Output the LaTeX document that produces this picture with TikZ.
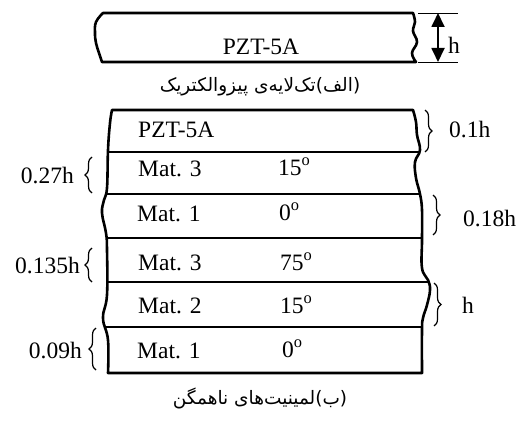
\documentclass[tikz,border=0pt]{standalone}
\usepackage{fontspec}
\setmainfont{Liberation Serif}
\newfontfamily\persianfont[Script=Arabic]{DejaVu Sans}
\TeXXeTstate=1
\usetikzlibrary{arrows.meta,decorations.pathreplacing,intersections}
\begin{document}
\begin{tikzpicture}[x=1pt,y=-1pt,
  edge/.style={line width=2.6pt, line cap=round, line join=round},
  sep/.style={line width=1.7pt},
  thinline/.style={line width=0.8pt},
  lbl/.style={font=\fontsize{23.5}{26}\selectfont, inner sep=0pt},
  fa/.style={font=\persianfont\fontsize{18.5}{22}\selectfont, inner sep=0pt},
  brc/.style={decorate, decoration={brace, amplitude=#1}, line width=1.2pt},
  brc/.default=7pt,
  dimarrow/.style={line width=1.8pt, {Triangle[length=14pt 0,width=13pt 0]}-{Triangle[length=14pt 0,width=13pt 0]}}]
\useasboundingbox (0,0) rectangle (518,422);

% ---------- (a) single piezoelectric layer ----------
\draw[edge] plot[smooth, tension=0.7] coordinates {(102,62) (99,53) (96,43) (95,33) (96,22) (103,13)}
  -- plot[smooth, tension=0.7] coordinates {(413,13) (415,22) (413,31) (417,42) (412,53) (416,62)} -- cycle;
\node[lbl, anchor=base] (strip) at (261,55) {PZT-5A};

\coordinate (tkA1) at (418,13); \coordinate (tkA2) at (458,13);
\coordinate (tkB1) at (418,62); \coordinate (tkB2) at (458,62);
\draw[thinline] (tkA1) -- (tkA2);
\draw[thinline] (tkB1) -- (tkB2);
\coordinate (ha) at (438,13); \coordinate (hb) at (438,62);
\draw[dimarrow] (ha) -- (hb);
\node[lbl, anchor=base] (hlab) at (454,54) {h};

\node[fa] (capa) at (260,87) {\beginR(الف)تک‌لایه‌ی پیزوالکتریک\endR};

% ---------- (b) laminate ----------
\path[name path=L] plot[smooth, tension=0.7] coordinates {(108,373) (108,340) (103,318) (107,295) (107,250) (106,233) (102,213) (104,200) (107,188) (108,150) (110,123) (112,110)};
\path[name path=R] plot[smooth, tension=0.7] coordinates {(413,110) (416,122) (417,135) (420,150) (415,162) (416,178) (420,194) (422,210) (422,240) (422,268) (428,280) (430,290) (427,305) (423,318) (422,330) (422,373)};
\draw[edge] plot[smooth, tension=0.7] coordinates {(108,373) (108,340) (103,318) (107,295) (107,250) (106,233) (102,213) (104,200) (107,188) (108,150) (110,123) (112,110)}
  -- plot[smooth, tension=0.7] coordinates {(413,110) (416,122) (417,135) (420,150) (415,162) (416,178) (420,194) (422,210) (422,240) (422,268) (428,280) (430,290) (427,305) (423,318) (422,330) (422,373)} -- cycle;

\foreach \yy in {152,194,238,282,327} {
  \path[name path=hh] (60,\yy) -- (480,\yy);
  \path[name intersections={of=L and hh, by={l\yy}}];
  \path[name intersections={of=R and hh, by={r\yy}}];
  \draw[sep] (l\yy) -- (r\yy);
}

% layer texts
\node[lbl, anchor=base west] (m0) at (138,138) {PZT-5A};
\node[lbl, anchor=base west] (m1) at (138,176) {Mat. 3};
\node[lbl, anchor=base west] (m2) at (137,221) {Mat. 1};
\node[lbl, anchor=base west] (m3) at (138,270) {Mat. 3};
\node[lbl, anchor=base west] (m4) at (138,313) {Mat. 2};
\node[lbl, anchor=base west] (m5) at (137,358) {Mat. 1};

\node[lbl, anchor=base west] (a1) at (278,175) {15\textsuperscript{o}};
\node[lbl, anchor=base west] (a2) at (279,220) {0\textsuperscript{o}};
\node[lbl, anchor=base west] (a3) at (280,270) {75\textsuperscript{o}};
\node[lbl, anchor=base west] (a4) at (280,313) {15\textsuperscript{o}};
\node[lbl, anchor=base west] (a5) at (282,357) {0\textsuperscript{o}};

% left braces
\coordinate (lb1t) at (92,157);  \coordinate (lb1b) at (92,193);
\coordinate (lb2t) at (92,248);  \coordinate (lb2b) at (92,282);
\coordinate (lb3t) at (96,328);  \coordinate (lb3b) at (96,370);
\draw[brc] (lb1b) -- (lb1t);
\draw[brc] (lb2b) -- (lb2t);
\draw[brc] (lb3b) -- (lb3t);
\node[lbl, anchor=base east] (d1) at (74,183) {0.27h};
\node[lbl, anchor=base east] (d2) at (80,273) {0.135h};
\node[lbl, anchor=base east] (d3) at (82,358) {0.09h};

% right braces
\coordinate (rb1t) at (425,110); \coordinate (rb1b) at (425,152);
\coordinate (rb2t) at (433,195); \coordinate (rb2b) at (433,235);
\coordinate (rb3t) at (434,283); \coordinate (rb3b) at (434,326);
\draw[brc] (rb1t) -- (rb1b);
\draw[brc] (rb2t) -- (rb2b);
\draw[brc] (rb3t) -- (rb3b);
\node[lbl, anchor=base west] (e1) at (449,138) {0.1h};
\node[lbl, anchor=base west] (e2) at (463,226) {0.18h};
\node[lbl, anchor=base west] (e3) at (462,313) {h};

\node[fa] (capb) at (260,398) {\beginR(ب)لمینیت‌های ناهمگن\endR};
\end{tikzpicture}
\end{document}
